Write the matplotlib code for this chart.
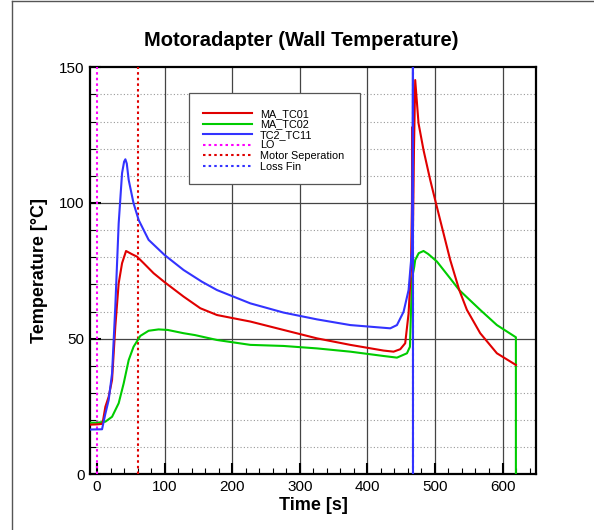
import matplotlib
matplotlib.use("Agg")
import matplotlib.pyplot as plt
from matplotlib.lines import Line2D
from matplotlib.patches import Rectangle

plt.rcParams['font.family'] = ['Liberation Sans', 'DejaVu Sans']

# ---- data ----
t_tc01 = [-10, 0, 8, 12.3, 17.2, 22.2, 27, 32, 37, 42.9, 51.8, 59.2, 69, 83.7, 100, 128, 152.8,
          177.5, 202, 226.8, 276, 325.4, 374.7, 424, 438.8, 448.7, 456, 461, 464.5, 466, 466.5,
          467.5, 469, 470.8, 475.7, 483.1, 493, 501.5, 512.7, 522.6, 536, 547.3, 567, 591.7, 619.8]
v_tc01 = [18.3, 18.4, 18.6, 24.9, 28.6, 34.8, 54.4, 70.4, 77.8, 82.3, 81.1, 80.2, 77.8, 74.1, 70.8,
          65.5, 61.2, 58.7, 57.5, 56.3, 53.2, 50.1, 47.7, 45.6, 45.2, 46.1, 48.3, 59.3, 75.3, 100,
          128, 90, 120, 145.3, 129.4, 119.5, 108.5, 99.9, 88.8, 79, 67.9, 60.6, 52, 44.6, 40.3]

t_tc02 = [-10, 0, 12.3, 22.2, 32, 39.4, 46.8, 54, 64, 76.3, 91, 104.6, 128, 145, 177.5, 226.8, 276,
          325.4, 374.7, 424, 443.8, 458.6, 463, 466, 469.4, 470.8, 476, 483.1, 490, 503, 522.6,
          536, 567, 591.7, 619.8, 619.8]
v_tc02 = [19, 19, 19.4, 21.2, 26.2, 33.5, 42.1, 47, 51, 52.9, 53.4, 53.2, 52, 51.3, 49.5, 47.7,
          47.3, 46.4, 45.2, 43.6, 43, 44.6, 47, 72, 76.5, 79, 81.5, 82.3, 81.2, 78.4, 72.2,
          67.9, 60.6, 55, 50.5, 0]

t_tc11 = [-10, 7.4, 12, 17.2, 22.2, 27, 32, 37, 40, 41.9, 44, 46.8, 54, 61.6, 76.3, 100, 128, 155,
          177.5, 226.8, 276, 325.4, 374.7, 414, 433.9, 443.8, 453.6, 461, 466, 467, 467.5, 467.5]
v_tc11 = [16.5, 16.6, 22, 27.4, 37.2, 61.8, 92.5, 111, 115.2, 116.1, 114.5, 108.5, 99.9, 93.7,
          86.4, 80.8, 75.3, 71, 67.9, 63, 59.6, 57.1, 55, 54.2, 53.8, 55, 59.9, 67.9, 82.7, 120,
          160, 0]

t_lo = 0
t_motor_sep = 60
t_loss_fin = 468

series_labels = ["MA_TC01", "MA_TC02", "TC2_TC11", "LO", "Motor Seperation", "Loss Fin"]

# ---- figure ----
W, H = 594, 530
fig = plt.figure(figsize=(W / 100, H / 100), dpi=100)
ax = fig.add_axes([90.3 / W, 1 - 474.3 / H, (536.3 - 90.3) / W, (474.3 - 67.3) / H])

red = '#e00000'
green = '#00cc00'
blue = '#3333ff'
magenta = '#ff00ff'

# grid
for y in range(10, 150, 10):
    if y % 50:
        ax.axhline(y, color='#999999', lw=0.8, ls=(0, (1, 2)), zorder=1)
for y in (50, 100):
    ax.axhline(y, color='#444444', lw=0.9, zorder=1)
for x in (100, 200, 300, 400, 500, 600):
    ax.axvline(x, color='#444444', lw=0.9, zorder=1)

dot = (0, (1.2, 1.5))
ax.axvline(t_lo, color=magenta, lw=1.5, ls=dot, zorder=3)
ax.axvline(t_motor_sep, color=red, lw=1.5, ls=dot, zorder=3)
ax.axvline(t_loss_fin, color=blue, lw=1.5, ls=dot, zorder=3)

ax.plot(t_tc02, v_tc02, color=green, lw=1.5, zorder=4)
ax.plot(t_tc01, v_tc01, color=red, lw=1.5, zorder=5)
ax.plot(t_tc11, v_tc11, color=blue, lw=1.5, zorder=6)

ax.set_xlim(-10, 650)
ax.set_ylim(0, 150)
ax.set_xticks([0, 100, 200, 300, 400, 500, 600])
ax.set_xticks(range(20, 650, 20), minor=True)
ax.set_yticks([0, 50, 100, 150])
ax.set_yticks(range(10, 150, 10), minor=True)
ax.tick_params(which='major', direction='in', length=8, width=1.5, labelsize=11, pad=4)
ax.tick_params(which='minor', direction='in', length=4, width=0.8)
for s in ax.spines.values():
    s.set_linewidth(1.6)

ax.set_xlabel('Time [s]', fontsize=13, fontweight='bold', labelpad=2)
ax.set_ylabel('Temperature [°C]', fontsize=13, fontweight='bold', labelpad=8)
fig.text(301 / W, 1 - 40 / H, 'Motoradapter (Wall Temperature)', fontsize=14.5,
         fontweight='bold', ha='center', va='center')

# legend
handles = [
    Line2D([], [], color=red, lw=1.5),
    Line2D([], [], color=green, lw=1.5),
    Line2D([], [], color=blue, lw=1.5),
    Line2D([], [], color=magenta, lw=1.5, ls=dot),
    Line2D([], [], color=red, lw=1.5, ls=dot),
    Line2D([], [], color=blue, lw=1.5, ls=dot),
]
bx0, by0, bx1, by1 = 189.3, 93.3, 360, 184
ax_x = lambda px: (px - 90.3) / (536.3 - 90.3)
ax_y = lambda py: (474.3 - py) / (474.3 - 67.3)
ax.add_patch(Rectangle((ax_x(bx0), ax_y(by1)), ax_x(bx1) - ax_x(bx0), ax_y(by0) - ax_y(by1),
                       transform=ax.transAxes, facecolor='white', edgecolor='#555555',
                       lw=0.9, zorder=8))
leg = ax.legend(handles, series_labels, loc='upper left',
                bbox_to_anchor=(ax_x(bx0 + 14), ax_y(by0 + 15.5)), frameon=False,
                fontsize=7.8, handlelength=4.5, handletextpad=0.75, labelspacing=0.05,
                borderpad=0.0, borderaxespad=0.0)
leg.set_zorder(9)

# outer frame
fig.add_artist(Line2D([12 / W, 12 / W], [0, 1 - 1 / H], color='#555555', lw=1.0,
                      transform=fig.transFigure))
fig.add_artist(Line2D([12 / W, 1], [1 - 1 / H, 1 - 1 / H], color='#555555', lw=1.0,
                      transform=fig.transFigure))

fig.savefig('out.png', dpi=100)
